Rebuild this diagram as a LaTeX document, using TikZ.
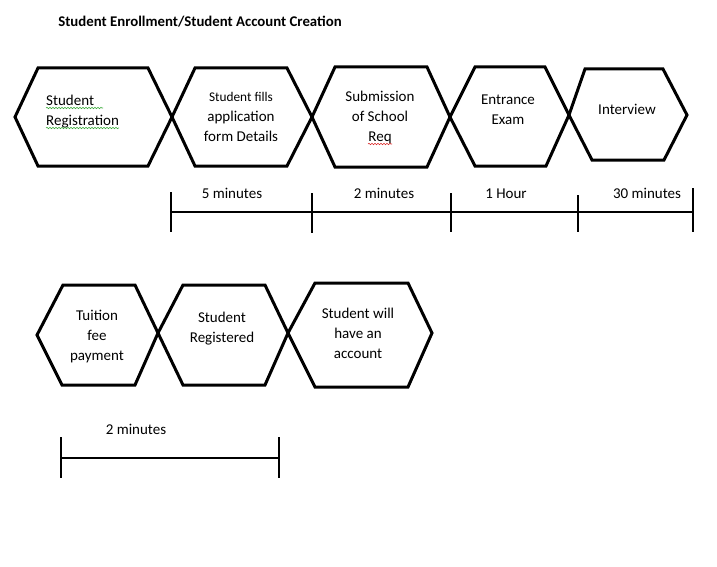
\documentclass[tikz,border=0pt]{standalone}
\usepackage{fontspec}
\setmainfont{Carlito}
\usetikzlibrary{decorations.pathmorphing}
\definecolor{spellgreen}{RGB}{60,170,60}
\definecolor{spellred}{RGB}{220,40,40}
\tikzset{
  hexa/.style={line width=3pt, line join=miter},
  tline/.style={line width=1.3pt},
  lbl/.style={align=center, inner sep=0pt, font=\fontsize{15}{20}\selectfont},
  spell/.style={decorate, decoration={snake, amplitude=0.7pt, segment length=3pt}, line width=0.6pt}
}
\begin{document}
\begin{tikzpicture}[x=1pt, y=-1pt]
	\useasboundingbox (0,0) rectangle (717,567);
	\node[inner sep=0pt, font=\fontsize{14.8}{17}\selectfont\bfseries] (title) at (200,22) {Student Enrollment/Student Account Creation};
%	first row of steps
	\draw[hexa](15,117)--(38,68)--(148,68)--(172,117)--(148,166)--(38,166)--cycle;
	\draw[hexa](172,117)--(195,68)--(287,68)--(312,117)--(287,166)--(195,166)--cycle;
	\draw[hexa](312,117)--(335,67)--(427,67)--(450,117)--(427,167)--(335,167)--cycle;
	\draw[hexa](450,117)--(475,67)--(545,67)--(569,115)--(546,166)--(475,166)--cycle;
	\draw[hexa](569,115)--(585,69)--(663,69)--(687,115)--(664,160)--(592,160)--cycle;
	\node[lbl, align=left, anchor=west] (reg) at (46,112) {Student\\Registration};
	\node[lbl] (fill) at (241,117) {{\fontsize{13.3}{20}\selectfont Student fills}\\application\\form Details};
	\node[lbl] (req) at (380,118) {Submission\\of School\\Req};
	\node[lbl] (exam) at (508,110) {Entrance\\Exam};
	\node[lbl] (intv) at (627,109) {Interview};
	\draw[spell, spellgreen](46,108)--(103,108);
	\draw[spell, spellgreen](46,128)--(119,128);
	\draw[spell, spellred](368,144)--(392,144);
%	times of the first row
	\draw[tline](171,212)--(693,212);
	\draw[tline](171,192)--(171,232);
	\draw[tline](312,193)--(312,233);
	\draw[tline](451,193)--(451,232);
	\draw[tline](578,195)--(578,232);
	\draw[tline](693,188)--(693,232);
	\node[lbl, anchor=base] (m5) at (232,198) {5 minutes};
	\node[lbl, anchor=base] (m2) at (384,198) {2 minutes};
	\node[lbl, anchor=base] (h1) at (506,198) {1 Hour};
	\node[lbl, anchor=base] (m30) at (647,198) {30 minutes};
%	second row of steps
	\draw[hexa](37,335)--(63,285)--(135,285)--(158,333)--(135,385)--(62,385)--cycle;
	\draw[hexa](158,333)--(183,285)--(265,285)--(288,333)--(265,385)--(183,385)--cycle;
	\draw[hexa](288,333)--(315,283)--(408,283)--(432,333)--(408,387)--(315,387)--cycle;
	\node[lbl] (fee) at (97,337) {Tuition\\fee\\payment};
	\node[lbl] (regd) at (222,329) {Student\\Registered};
	\node[lbl] (acct) at (358,333) {Student will\\have an\\account};
%	time of the second row
	\draw[tline](61,458)--(279,458);
	\draw[tline](61,437)--(61,478);
	\draw[tline](279,437)--(279,478);
	\node[lbl, anchor=base] (m2b) at (136,434) {2 minutes};
\end{tikzpicture}
\end{document}
